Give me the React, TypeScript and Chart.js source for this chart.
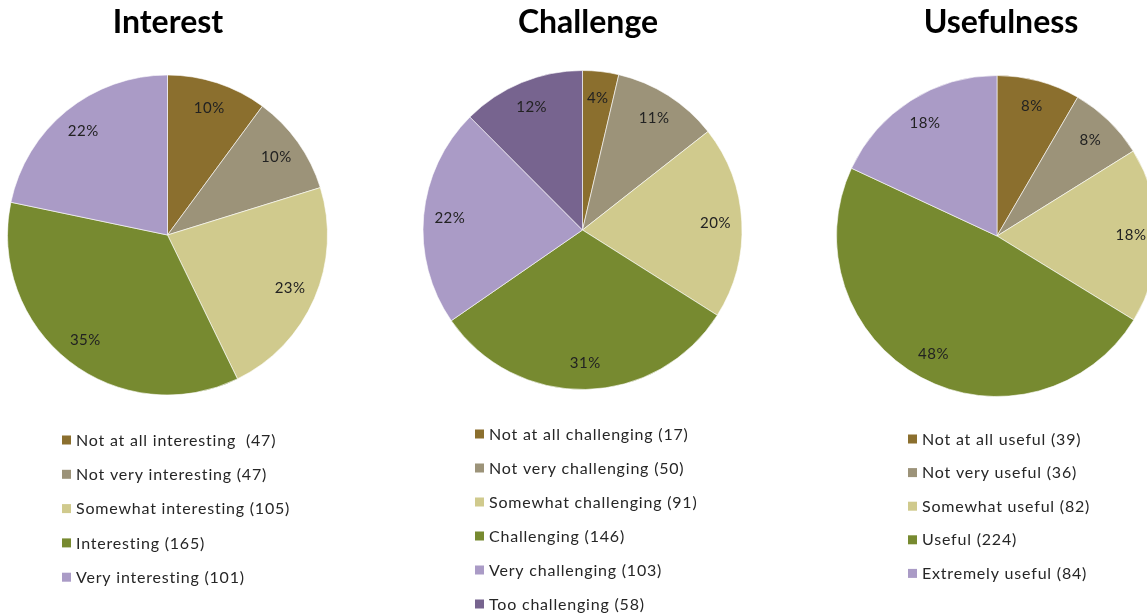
import React, { useEffect, useRef } from "react";
import { Chart, registerables } from "chart.js";

Chart.register(...registerables);

const interestLabels = ["Not at all interesting  (47)", "Not very interesting (47)", "Somewhat interesting (105)", "Interesting (165)", "Very interesting (101)"];
const interestValues = [47, 47, 105, 165, 101];

const challengeLabels = ["Not at all challenging (17)", "Not very challenging (50)", "Somewhat challenging (91)", "Challenging (146)", "Very challenging (103)", "Too challenging (58)"];
const challengeValues = [17, 50, 91, 146, 103, 58];

const usefulnessLabels = ["Not at all useful (39)", "Not very useful (36)", "Somewhat useful (82)", "Useful (224)", "Extremely useful (84)"];
const usefulnessValues = [39, 36, 82, 224, 84];

const colors5 = ["#8b6f2e", "#9c9379", "#d0ca8d", "#778a30", "#aa9bc6"];
const colors6 = ["#8b6f2e", "#9c9379", "#d0ca8d", "#778a30", "#aa9bc6", "#77648f"];

type Spec = {
  title: string;
  labels: string[];
  values: number[];
  colors: string[];
  left: number;
  width: number;
  cx: number;
  cy: number;
  r: number;
  titleX: number;
  legendX: number;
  legendY: number;
  legendStep: number;
};

const specs: Spec[] = [
  { title: "Interest", labels: interestLabels, values: interestValues, colors: colors5, left: 0, width: 380, cx: 167.5, cy: 235, r: 160.5, titleX: 168, legendX: 62, legendY: 440, legendStep: 34.3 },
  { title: "Challenge", labels: challengeLabels, values: challengeValues, colors: colors6, left: 390, width: 400, cx: 582.5, cy: 230, r: 160, titleX: 588, legendX: 475, legendY: 434, legendStep: 34 },
  { title: "Usefulness", labels: usefulnessLabels, values: usefulnessValues, colors: colors5, left: 800, width: 400, cx: 997, cy: 236, r: 161, titleX: 1001, legendX: 908, legendY: 439, legendStep: 33.6 },
];

const FONT = "Lato, 'Open Sans', sans-serif";

const decorPlugin = {
  id: "decor",
  afterDatasetsDraw(chart: any, _args: any, opts: any) {
    const ctx = chart.ctx;
    const meta = chart.getDatasetMeta(0);
    const values: number[] = chart.data.datasets[0].data;
    const total = values.reduce((a: number, b: number) => a + b, 0);
    ctx.save();
    // percentage labels
    ctx.font = `15px ${FONT}`;
    (ctx as any).letterSpacing = "0.5px";
    ctx.fillStyle = "#222222";
    ctx.textAlign = "center";
    ctx.textBaseline = "middle";
    meta.data.forEach((arc: any, i: number) => {
      const mid = (arc.startAngle + arc.endAngle) / 2;
      const d = arc.outerRadius * 0.835;
      const x = arc.x + Math.cos(mid) * d;
      const y = arc.y + Math.sin(mid) * d;
      ctx.fillText(Math.round((values[i] / total) * 100) + "%", x, y);
    });
    // title
    ctx.font = `bold 32px ${FONT}`;
    (ctx as any).letterSpacing = "0px";
    ctx.fillStyle = "#000000";
    ctx.textBaseline = "alphabetic";
    ctx.fillText(opts.title, opts.titleX, 33);
    // legend
    ctx.font = `16px ${FONT}`;
    (ctx as any).letterSpacing = "0.8px";
    ctx.textAlign = "left";
    ctx.textBaseline = "middle";
    chart.data.labels.forEach((lab: string, i: number) => {
      const y = opts.legendY + i * opts.legendStep;
      ctx.fillStyle = chart.data.datasets[0].backgroundColor[i];
      ctx.fillRect(opts.legendX, y - 4.5, 9, 9);
      ctx.fillStyle = "#262626";
      ctx.fillText(lab, opts.legendX + 14, y + 0.5);
    });
    ctx.restore();
  },
};

function PieBlock({ spec }: { spec: Spec }) {
  const ref = useRef<HTMLCanvasElement | null>(null);
  useEffect(() => {
    if (!ref.current) return;
    const H = 616;
    const cxl = spec.cx - spec.left;
    const chart = new Chart(ref.current, {
      type: "pie",
      data: {
        labels: spec.labels,
        datasets: [
          {
            data: spec.values,
            backgroundColor: spec.colors,
            borderColor: "rgba(255,255,255,0.6)",
            borderWidth: 1,
          },
        ],
      },
      options: {
        responsive: false,
        animation: false,
        layout: {
          padding: {
            left: cxl - spec.r,
            right: spec.width - (cxl + spec.r),
            top: spec.cy - spec.r,
            bottom: H - (spec.cy + spec.r),
          },
        },
        plugins: {
          legend: { display: false },
          tooltip: { enabled: false },
          title: { display: false },
          decor: {
            title: spec.title,
            titleX: spec.titleX - spec.left,
            legendX: spec.legendX - spec.left,
            legendY: spec.legendY,
            legendStep: spec.legendStep,
          },
        } as any,
      },
      plugins: [decorPlugin],
    });
    return () => chart.destroy();
  }, [spec]);
  return (
    <canvas
      ref={ref}
      width={spec.width}
      height={616}
      style={{ position: "absolute", left: spec.left, top: 0, width: spec.width, height: 616 }}
    />
  );
}

export default function App() {
  return (
    <div
      style={{
        position: "fixed",
        left: 0,
        top: 0,
        width: 1147,
        height: 616,
        overflow: "hidden",
        background: "#ffffff",
      }}
    >
      {specs.map((s) => (
        <PieBlock key={s.title} spec={s} />
      ))}
    </div>
  );
}
